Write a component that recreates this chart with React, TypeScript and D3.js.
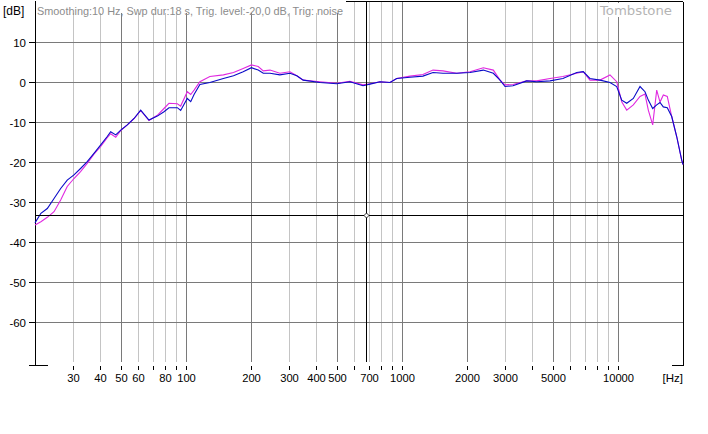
import React from "react";
import { scaleLog, scaleLinear, line } from "d3";

const freqs = [
  20, 21.3, 22.8, 24.5, 26.3, 28.2, 30.3, 32.5, 34.9, 37.5, 40.3, 43.2, 44.8, 47.3, 49.9,
  53.5, 57.5, 61.7, 67.4, 73.7, 79.1, 83.4, 91.2, 94.5, 101.4, 105.2, 109, 116, 129, 149,
  166, 184, 201, 216, 228, 245, 272, 303, 326, 349, 417, 499, 574, 660, 711, 791, 880, 945,
  1089, 1250, 1392, 1548, 1793, 2066, 2380, 2648, 2844, 3000, 3266, 3778, 4204, 4844, 5560,
  6441, 6906, 7417, 8256, 9184, 9866, 10406, 10978, 11776, 12648, 13336, 13818, 14478,
  15110, 15654, 16216, 16914, 17734, 18700, 19726, 20000,
];

const blueDb = [
  -35.1, -32.7, -31.5, -29.0, -26.5, -24.4, -23.1, -21.5, -19.8, -17.7, -15.6, -13.5, -12.3, -13.1, -11.9,
  -10.6, -9.0, -6.9, -9.4, -8.4, -7.3, -6.3, -6.3, -7.0, -4.0, -4.8, -3.0, -0.5, 0.0, 1.0,
  1.7, 2.7, 3.7, 3.1, 2.3, 2.3, 1.9, 2.3, 1.7, 0.6, 0.0, -0.3, 0.2, -0.8, -0.4, 0.2, 0.0, 1.0,
  1.3, 1.6, 2.5, 2.3, 2.3, 2.5, 3.1, 2.3, 0.6, -1.0, -0.8, 0.4, 0.2, 0.4, 1.0,
  2.5, 2.7, 1.0, 0.6, 0.0, -1.0, -4.4, -5.2, -4.0, -1.0, -2.3, -4.4, -6.5,
  -5.6, -5.0, -6.1, -6.3, -8.5, -13.5, -19.4, -20.5,
];

const magentaDb = [
  -35.6, -34.8, -33.7, -32.3, -29.4, -26.0, -24.0, -22.3, -20.2, -17.9, -16.0, -13.8, -12.8, -13.7, -12.0,
  -10.6, -9.0, -7.0, -9.5, -8.2, -6.5, -5.2, -5.3, -5.9, -2.3, -3.0, -1.9, 0.2, 1.5, 1.9,
  2.5, 3.5, 4.4, 4.0, 2.9, 3.1, 2.3, 2.7, 1.7, 0.6, 0.2, -0.2, 0.3, -0.6, -0.3, 0.2, 0.0, 1.0,
  1.6, 2.0, 3.1, 2.9, 2.3, 2.7, 3.7, 3.1, 0.6, -0.6, -0.5, 0.4, 0.4, 1.0, 1.5,
  2.3, 2.7, 0.6, 0.6, 1.9, 0.2, -4.8, -6.9, -5.6, -3.5, -2.9, -6.9, -10.6,
  -1.9, -4.9, -3.1, -3.5, -8.5, -13.5, -19.4, -20.5,
];

const gridFreqs = [
  30, 40, 50, 60, 70, 80, 90, 100, 200, 300, 400, 500, 600, 700, 800, 900,
  1000, 2000, 3000, 4000, 5000, 6000, 7000, 8000, 9000, 10000,
];
const majorFreqs = [50, 100, 200, 500, 1000, 2000, 5000, 10000];
const freqLabels = [30, 40, 50, 60, 80, 100, 200, 300, 400, 500, 700, 1000, 2000, 3000, 5000, 10000];
const dbTicks = [10, 0, -10, -20, -30, -40, -50, -60];

const headerText = "Smoothing:10 Hz, Swp dur:18 s, Trig. level:-20,0 dB, Trig: noise";
const cursorFreq = 680;
const cursorDb = -33;

export default function App() {
  const x = scaleLog().domain([20, 20000]).range([35, 683]);
  const y = scaleLinear().domain([20, -70]).range([2.5, 362.5]);
  const left = 35;
  const right = 683;
  const top = 1.5;
  const bottom = 362;

  const path = (vals: number[]) =>
    line<number>()
      .x((_, i) => x(freqs[i]))
      .y((d) => y(d))(vals) ?? "";

  const font = "'Liberation Sans', Arial, sans-serif";
  const cx = Math.round(x(cursorFreq)) + 0.5;
  const cy = Math.round(y(cursorDb)) + 0.5;

  return (
    <svg
      width={708}
      height={434}
      style={{ position: "absolute", left: 0, top: 0, background: "#fff", display: "block" }}
      fontFamily={font}
    >
      <rect width={708} height={434} fill="#fff" />
      {/* vertical grid */}
      {gridFreqs.map((f) => {
        const px = Math.round(x(f)) + 0.5;
        const major = majorFreqs.includes(f);
        return (
          <line key={f} x1={px} x2={px} y1={top} y2={bottom} stroke={major ? "#7a7a7a" : "#c4c4c4"} shapeRendering="crispEdges" />
        );
      })}
      {/* horizontal grid */}
      {dbTicks.map((d) => (
        <line key={d} x1={left} x2={right} y1={y(d)} y2={y(d)} stroke="#7a7a7a" shapeRendering="crispEdges" />
      ))}
      {/* border */}
      <line x1={left} x2={right} y1={top} y2={top} stroke="#000" shapeRendering="crispEdges" />
      <line x1={left + 0.5} x2={left + 0.5} y1={top} y2={365.5} stroke="#000" shapeRendering="crispEdges" />
      <line x1={right + 0.5} x2={right + 0.5} y1={top} y2={365.5} stroke="#000" shapeRendering="crispEdges" />
      <line x1={29} x2={48} y1={365.5} y2={365.5} stroke="#000" shapeRendering="crispEdges" />
      <line x1={672} x2={684} y1={365.5} y2={365.5} stroke="#000" shapeRendering="crispEdges" />

      {/* header boxes */}
      <rect x={36} y={0} width={310} height={13} fill="#fff" />
      <rect x={598} y={3} width={78} height={14} fill="#fff" />
      <text x={37} y={15} fontSize={11} fill="#8c8c8c" textLength={306} lengthAdjust="spacingAndGlyphs">
        {headerText}
      </text>
      <text x={600} y={15} fontSize={12.5} fill="#b4b4b4" fontFamily="'DejaVu Sans', Verdana, sans-serif" textLength={72} lengthAdjust="spacingAndGlyphs">
        Tombstone
      </text>
      <text x={3} y={15} fontSize={12} fill="#000">[dB]</text>

      {/* y ticks */}
      {dbTicks.map((d) => (
        <g key={d}>
          <line x1={29} x2={35} y1={y(d)} y2={y(d)} stroke="#000" shapeRendering="crispEdges" />
          <text x={26} y={y(d) + 4.5} fontSize={11.5} textAnchor="end" fill="#000">
            {d}
          </text>
        </g>
      ))}

      {/* x ticks */}
      {gridFreqs.map((f) => {
        const px = Math.round(x(f)) + 0.5;
        return <line key={f} x1={px} x2={px} y1={366} y2={370} stroke="#000" shapeRendering="crispEdges" />;
      })}
      {freqLabels.map((f) => (
        <text key={f} x={Math.round(x(f)) + 0.5} y={382} fontSize={11.2} textAnchor="middle" fill="#000">
          {f}
        </text>
      ))}
      <text x={683} y={382} fontSize={11.5} textAnchor="end" fill="#000">[Hz]</text>

      {/* curves */}
      <path d={path(magentaDb)} fill="none" stroke="#e028e0" strokeWidth={1.1} />
      <path d={path(blueDb)} fill="none" stroke="#0a0ac8" strokeWidth={1.1} />

      {/* cursor */}
      <line x1={cx} x2={cx} y1={top} y2={bottom} stroke="#000" shapeRendering="crispEdges" />
      <line x1={left} x2={right} y1={cy} y2={cy} stroke="#000" shapeRendering="crispEdges" />
      <path d={`M${cx},${cy - 2.5}L${cx + 2.5},${cy}L${cx},${cy + 2.5}L${cx - 2.5},${cy}Z`} fill="#fff" stroke="#000" strokeWidth={0.8} />
    </svg>
  );
}
